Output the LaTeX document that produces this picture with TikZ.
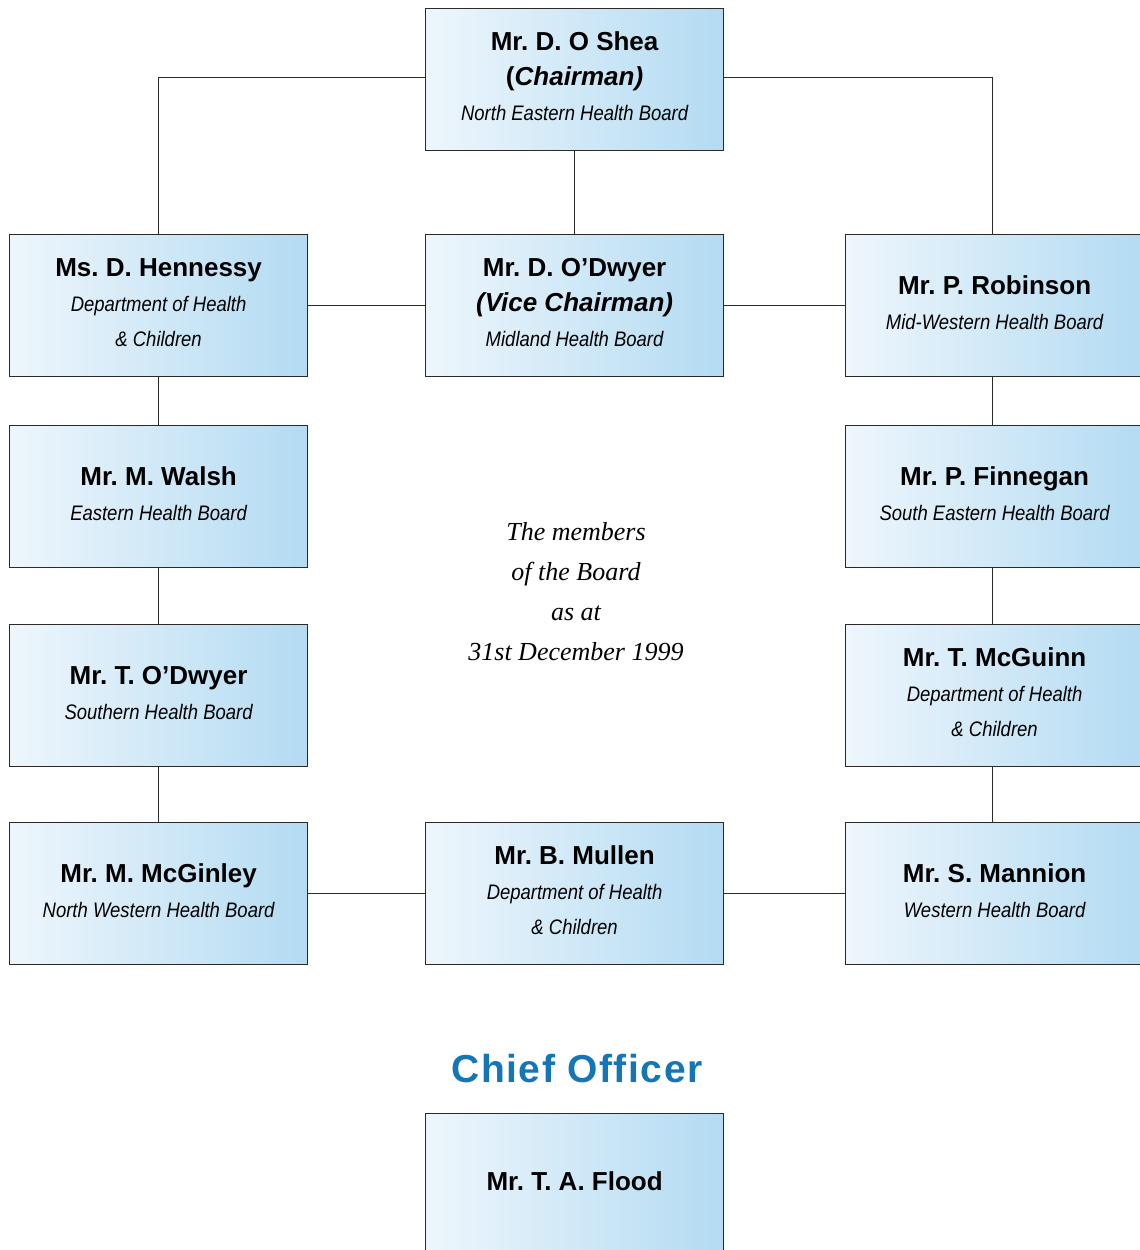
\documentclass[tikz,border=0pt]{standalone}
\usepackage{fontspec}
\setmainfont{Liberation Serif}
\setsansfont{Liberation Sans}
\newfontfamily\subfont[FakeStretch=0.88]{Liberation Sans}
\definecolor{boxL}{HTML}{EEF6FC}
\definecolor{boxR}{HTML}{B3DBF2}
\definecolor{edge}{HTML}{2A2A2A}
\definecolor{chief}{HTML}{1475B7}
\frenchspacing
\newcommand{\nm}[1]{{\fontsize{26}{35}\selectfont\sffamily\bfseries #1}}
\newcommand{\sbt}[1]{{\fontsize{21}{35}\selectfont\subfont\itshape #1}}
\tikzset{
  member/.style={draw=edge, line width=1.2pt, left color=boxL, right color=boxR,
    minimum width=298pt, minimum height=142pt, inner sep=0pt, anchor=north west},
  lbl/.style={align=center, inner sep=0pt, font=\fontsize{26}{35}\selectfont},
  link/.style={draw=edge, line width=1.1pt}
}
\begin{document}
\frenchspacing
\begin{tikzpicture}[x=1pt,y=-1pt]
\useasboundingbox (0,0) rectangle (1140,1250);
\clip (0,0) rectangle (1140,1250);
\fill[white] (0,0) rectangle (1140,1250);
% boxes
\node[member] (chair) at (425,8) {};
\node[member] (hen) at (9,234) {};
\node[member] (vice) at (425,234) {};
\node[member] (rob) at (845,234) {};
\node[member] (wal) at (9,425) {};
\node[member] (fin) at (845,425) {};
\node[member] (tod) at (9,624) {};
\node[member] (mcg) at (845,624) {};
\node[member] (mgl) at (9,822) {};
\node[member] (mul) at (425,822) {};
\node[member] (man) at (845,822) {};
\node[member] (flo) at (425,1113) {};
% texts
\node[lbl] (chair-t) at ([yshift=3pt]chair.center) {\nm{Mr. D. O Shea}\\\nm{(\itshape Chairman)}\\\sbt{North Eastern Health Board}};
\node[lbl] (hen-t) at ([yshift=3pt]hen.center) {\nm{Ms. D. Hennessy}\\\sbt{Department of Health}\\\sbt{\& Children}};
\node[lbl] (vice-t) at ([yshift=3pt]vice.center) {\nm{Mr. D. O’Dwyer}\\\nm{\itshape (Vice Chairman)}\\\sbt{Midland Health Board}};
\node[lbl] (rob-t) at ([yshift=3pt]rob.center) {\nm{Mr. P. Robinson}\\\sbt{Mid-Western Health Board}};
\node[lbl] (wal-t) at ([yshift=3pt]wal.center) {\nm{Mr. M. Walsh}\\\sbt{Eastern Health Board}};
\node[lbl] (fin-t) at ([yshift=3pt]fin.center) {\nm{Mr. P. Finnegan}\\\sbt{South Eastern Health Board}};
\node[lbl] (tod-t) at ([yshift=3pt]tod.center) {\nm{Mr. T. O’Dwyer}\\\sbt{Southern Health Board}};
\node[lbl] (mcg-t) at ([yshift=3pt]mcg.center) {\nm{Mr. T. McGuinn}\\\sbt{Department of Health}\\\sbt{\& Children}};
\node[lbl] (mgl-t) at ([yshift=3pt]mgl.center) {\nm{Mr. M. McGinley}\\\sbt{North Western Health Board}};
\node[lbl] (mul-t) at ([yshift=3pt]mul.center) {\nm{Mr. B. Mullen}\\\sbt{Department of Health}\\\sbt{\& Children}};
\node[lbl] (man-t) at ([yshift=3pt]man.center) {\nm{Mr. S. Mannion}\\\sbt{Western Health Board}};
\node[lbl] (flo-t) at ([yshift=3pt]flo.center) {\nm{Mr. T. A. Flood}};
% connectors
\coordinate (cw) at ([yshift=2pt]chair.west);
\coordinate (ce) at ([yshift=2pt]chair.east);
\coordinate (rn) at ([xshift=-2pt]rob.north);
\coordinate (rs) at ([xshift=-2pt]rob.south);
\coordinate (fn) at ([xshift=-2pt]fin.north);
\coordinate (fs) at ([xshift=-2pt]fin.south);
\coordinate (gn) at ([xshift=-2pt]mcg.north);
\coordinate (gs) at ([xshift=-2pt]mcg.south);
\coordinate (mn) at ([xshift=-2pt]man.north);
\coordinate (cl) at (hen.north |- cw);
\coordinate (cr) at (rn |- ce);
\draw[link] (cw) -- (cl) -- (hen.north);
\draw[link] (ce) -- (cr) -- (rn);
\draw[link] (chair.south) -- (vice.north);
\draw[link] (hen.east) -- (vice.west);
\draw[link] (vice.east) -- (rob.west);
\draw[link] (hen.south) -- (wal.north);
\draw[link] (wal.south) -- (tod.north);
\draw[link] (tod.south) -- (mgl.north);
\draw[link] (rs) -- (fn);
\draw[link] (fs) -- (gn);
\draw[link] (gs) -- (mn);
\draw[link] (mgl.east) -- (mul.west);
\draw[link] (mul.east) -- (man.west);
\node[align=center, font=\fontsize{26}{40}\selectfont\itshape] (note) at (576,592)
  {The members\\of the Board\\as at\\31st December 1999};
\node[font=\fontsize{39}{40}\selectfont\sffamily\bfseries, text=chief] (co) at (577,1069)
  {\addfontfeature{LetterSpace=4}Chief Officer};
\end{tikzpicture}
\end{document}
